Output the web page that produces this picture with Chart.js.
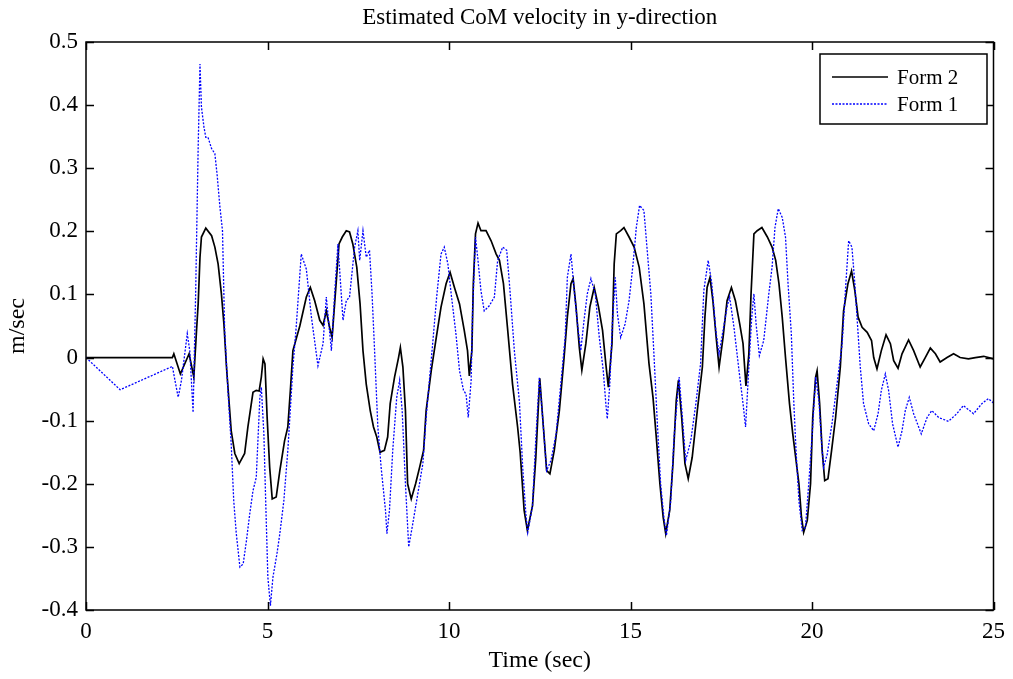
<!DOCTYPE html>
<html lang="en">
<head>
  <meta charset="UTF-8">
  <title>Estimated CoM velocity in y-direction</title>
  <script src="https://cdn.jsdelivr.net/npm/chart.js"></script>
  <style>
    html, body { margin: 0; padding: 0; background: #fff; }
    #wrap { width: 1013px; height: 679px; }
  </style>
</head>
<body>
  <div id="wrap">
    <canvas id="comChart" width="1013" height="679"></canvas>
  </div>

  <script>
    // Form 2 (black, solid)
    const timeForm2 = [0, 2.38, 2.42, 2.6, 2.84, 2.97, 3.04, 3.09, 3.14, 3.18, 3.3, 3.46, 3.55, 3.64, 3.73, 3.8, 3.87, 4.0, 4.1, 4.22,
      4.37, 4.46, 4.6, 4.69, 4.77, 4.83, 4.88, 4.93, 4.99, 5.06, 5.13, 5.24, 5.34, 5.47, 5.56, 5.63, 5.7, 5.89, 6.07, 6.18,
      6.3, 6.44, 6.53, 6.62, 6.71, 6.78, 6.89, 6.97, 7.06, 7.17, 7.26, 7.35, 7.46, 7.55, 7.63, 7.72, 7.83, 7.92, 8.01, 8.1,
      8.22, 8.31, 8.38, 8.5, 8.61, 8.66, 8.73, 8.8, 8.86, 8.96, 9.08, 9.19, 9.3, 9.37, 9.51, 9.65, 9.78, 9.92, 10.03, 10.15,
      10.29, 10.42, 10.51, 10.56, 10.63, 10.67, 10.73, 10.8, 10.88, 11.02, 11.16, 11.3, 11.39, 11.5, 11.61, 11.75, 11.89, 11.96, 12.07, 12.16,
      12.3, 12.39, 12.5, 12.6, 12.69, 12.78, 12.9, 13.04, 13.17, 13.26, 13.36, 13.42, 13.5, 13.59, 13.66, 13.77, 13.88, 14.0, 14.12, 14.23,
      14.32, 14.39, 14.49, 14.55, 14.61, 14.73, 14.82, 14.96, 15.1, 15.24, 15.37, 15.51, 15.62, 15.71, 15.81, 15.9, 15.97, 16.08, 16.17, 16.26,
      16.32, 16.41, 16.5, 16.59, 16.7, 16.84, 16.98, 17.05, 17.11, 17.19, 17.27, 17.36, 17.44, 17.55, 17.66, 17.78, 17.89, 18.01, 18.1, 18.18,
      18.26, 18.32, 18.4, 18.49, 18.62, 18.77, 18.9, 19.0, 19.09, 19.18, 19.27, 19.38, 19.47, 19.55, 19.64, 19.71, 19.77, 19.87, 19.96, 20.02,
      20.1, 20.14, 20.21, 20.28, 20.35, 20.44, 20.54, 20.65, 20.78, 20.87, 20.99, 21.09, 21.18, 21.27, 21.38, 21.52, 21.64, 21.7, 21.79, 21.91,
      22.04, 22.16, 22.25, 22.37, 22.48, 22.66, 22.8, 22.98, 23.12, 23.26, 23.4, 23.53, 23.72, 23.9, 24.08, 24.31, 24.5, 24.73, 25.0];
    const velForm2 = [0, 0, 0.006, -0.026, 0.006, -0.031, 0.038, 0.085, 0.159, 0.191, 0.205, 0.193, 0.175, 0.148, 0.101, 0.053, -0.015, -0.116, -0.152, -0.168,
      -0.152, -0.11, -0.055, -0.052, -0.053, -0.031, -0.002, -0.01, -0.095, -0.174, -0.224, -0.221, -0.179, -0.132, -0.11, -0.052, 0.011, 0.05, 0.096, 0.111,
      0.09, 0.059, 0.051, 0.074, 0.048, 0.032, 0.117, 0.18, 0.191, 0.201, 0.199, 0.18, 0.143, 0.085, 0.011, -0.042, -0.084, -0.11, -0.126, -0.15,
      -0.147, -0.126, -0.073, -0.031, 0.0, 0.016, -0.015, -0.084, -0.2, -0.224, -0.2, -0.174, -0.147, -0.084, -0.021, 0.032, 0.08, 0.117, 0.135, 0.111,
      0.085, 0.043, 0.011, -0.029, 0.011, 0.117, 0.196, 0.213, 0.201, 0.201, 0.185, 0.164, 0.154, 0.117, 0.048, -0.042, -0.11, -0.15, -0.242, -0.274,
      -0.235, -0.16, -0.033, -0.11, -0.179, -0.184, -0.147, -0.084, 0.0, 0.064, 0.117, 0.125, 0.08, 0.016, -0.02, 0.022, 0.08, 0.111, 0.08, 0.043,
      -0.01, -0.047, 0.022, 0.148, 0.196, 0.201, 0.206, 0.191, 0.175, 0.143, 0.085, -0.01, -0.063, -0.126, -0.2, -0.253, -0.279, -0.242, -0.168, -0.068,
      -0.036, -0.095, -0.168, -0.192, -0.158, -0.084, -0.015, 0.064, 0.111, 0.127, 0.09, 0.032, -0.015, 0.032, 0.09, 0.111, 0.09, 0.053, 0.022, -0.045,
      0.005, 0.1, 0.196, 0.201, 0.206, 0.191, 0.175, 0.154, 0.117, 0.064, 0.0, -0.073, -0.121, -0.158, -0.2, -0.253, -0.277, -0.258, -0.2, -0.095,
      -0.031, -0.021, -0.073, -0.147, -0.195, -0.192, -0.147, -0.095, -0.015, 0.074, 0.117, 0.137, 0.106, 0.064, 0.048, 0.04, 0.027, 0.0, -0.018, 0.011,
      0.036, 0.022, -0.005, -0.017, 0.006, 0.028, 0.011, -0.015, 0.0, 0.015, 0.006, -0.007, 0.0, 0.006, 0.0, -0.002, 0.0, 0.002, -0.002];

    // Form 1 (blue, dotted)
    const timeForm1 = [0, 0.94, 2.38, 2.45, 2.54, 2.63, 2.79, 2.86, 2.95, 3.02, 3.09, 3.14, 3.18, 3.25, 3.3, 3.36, 3.46, 3.55, 3.61, 3.69,
      3.76, 3.8, 3.82, 3.91, 4.0, 4.07, 4.14, 4.24, 4.33, 4.42, 4.51, 4.6, 4.69, 4.79, 4.83, 4.9, 4.95, 5.01, 5.08, 5.15,
      5.26, 5.34, 5.45, 5.56, 5.7, 5.79, 5.93, 6.07, 6.21, 6.39, 6.53, 6.62, 6.69, 6.76, 6.85, 6.94, 7.08, 7.17, 7.26, 7.4,
      7.49, 7.54, 7.63, 7.72, 7.81, 7.88, 7.95, 8.04, 8.13, 8.25, 8.29, 8.36, 8.45, 8.56, 8.64, 8.71, 8.8, 8.89, 9.0, 9.14,
      9.28, 9.37, 9.55, 9.66, 9.78, 9.87, 9.97, 10.06, 10.19, 10.29, 10.4, 10.47, 10.53, 10.61, 10.65, 10.73, 10.79, 10.88, 10.97, 11.11,
      11.25, 11.34, 11.48, 11.59, 11.68, 11.8, 11.94, 12.03, 12.12, 12.17, 12.3, 12.39, 12.49, 12.58, 12.69, 12.81, 12.95, 13.08, 13.2, 13.26,
      13.36, 13.45, 13.54, 13.63, 13.72, 13.81, 13.91, 14.03, 14.14, 14.25, 14.32, 14.36, 14.43, 14.5, 14.58, 14.64, 14.73, 14.85, 14.96, 15.07,
      15.16, 15.25, 15.37, 15.46, 15.56, 15.65, 15.74, 15.83, 15.92, 15.99, 16.11, 16.2, 16.34, 16.43, 16.52, 16.66, 16.8, 16.93, 17.02, 17.14,
      17.24, 17.35, 17.44, 17.55, 17.66, 17.73, 17.85, 17.99, 18.1, 18.17, 18.26, 18.34, 18.4, 18.46, 18.55, 18.67, 18.81, 18.9, 18.98, 19.07,
      19.18, 19.27, 19.34, 19.43, 19.5, 19.56, 19.64, 19.73, 19.82, 19.91, 20.0, 20.1, 20.19, 20.26, 20.32, 20.42, 20.55, 20.69, 20.83, 20.92,
      21.01, 21.1, 21.18, 21.24, 21.33, 21.42, 21.56, 21.7, 21.82, 21.91, 22.02, 22.11, 22.22, 22.37, 22.48, 22.57, 22.68, 22.8, 23.01, 23.17,
      23.3, 23.49, 23.76, 23.99, 24.17, 24.45, 24.68, 24.86, 25.0];
    const velForm1 = [0, -0.051, -0.014, -0.036, -0.063, -0.036, 0.038, 0.01, -0.087, 0.1, 0.333, 0.465, 0.397, 0.365, 0.349, 0.349, 0.331, 0.323, 0.291, 0.238,
      0.201, 0.096, 0.043, -0.052, -0.137, -0.227, -0.279, -0.332, -0.327, -0.29, -0.248, -0.211, -0.19, -0.063, -0.047, -0.121, -0.227, -0.348, -0.393, -0.348,
      -0.311, -0.279, -0.227, -0.147, -0.015, 0.048, 0.164, 0.14, 0.064, -0.013, 0.022, 0.096, 0.053, 0.011, 0.101, 0.18, 0.059, 0.09, 0.096, 0.175,
      0.201, 0.154, 0.201, 0.159, 0.17, 0.101, 0.011, -0.11, -0.174, -0.242, -0.279, -0.242, -0.147, -0.063, -0.036, -0.084, -0.2, -0.3, -0.264, -0.216,
      -0.168, -0.095, 0.022, 0.096, 0.164, 0.175, 0.148, 0.101, 0.038, -0.021, -0.052, -0.058, -0.095, -0.036, 0.074, 0.191, 0.159, 0.106, 0.074, 0.082,
      0.096, 0.154, 0.175, 0.17, 0.106, 0.011, -0.07, -0.174, -0.25, -0.277, -0.235, -0.13, -0.031, -0.095, -0.179, -0.163, -0.121, -0.042, 0.032, 0.127,
      0.164, 0.106, 0.053, 0.011, 0.059, 0.101, 0.125, 0.101, 0.032, -0.021, -0.073, -0.097, -0.042, 0.053, 0.127, 0.069, 0.032, 0.053, 0.09, 0.148,
      0.206, 0.241, 0.233, 0.17, 0.101, 0.0, -0.105, -0.2, -0.253, -0.282, -0.227, -0.126, -0.031, -0.095, -0.163, -0.132, -0.073, -0.01, 0.106, 0.154,
      0.117, 0.043, 0.006, 0.043, 0.08, 0.096, 0.048, -0.021, -0.073, -0.11, -0.015, 0.064, 0.101, 0.053, 0.003, 0.027, 0.101, 0.143, 0.206, 0.236,
      0.222, 0.191, 0.117, 0.038, -0.073, -0.147, -0.227, -0.274, -0.269, -0.2, -0.126, -0.031, -0.068, -0.132, -0.174, -0.153, -0.105, -0.042, 0.022, 0.106,
      0.185, 0.175, 0.117, 0.064, -0.015, -0.073, -0.105, -0.116, -0.089, -0.052, -0.026, -0.052, -0.105, -0.142, -0.116, -0.084, -0.063, -0.089, -0.121, -0.095,
      -0.084, -0.095, -0.101, -0.089, -0.076, -0.089, -0.073, -0.065, -0.072];

    const xTicks = [0, 5, 10, 15, 20, 25];
    const yTicks = [-0.4, -0.3, -0.2, -0.1, 0, 0.1, 0.2, 0.3, 0.4, 0.5];

    const serif = '"Liberation Serif", "Times New Roman", serif';

    const toPoints = (xs, ys) => xs.map((x, i) => ({ x: x, y: ys[i] }));

    // box, inward ticks, title, axis labels and legend in MATLAB style
    const matlabFrame = {
      id: 'matlabFrame',
      afterDraw(chart) {
        const ctx = chart.ctx;
        const a = chart.chartArea;
        const xs = chart.scales.x, ys = chart.scales.y;
        ctx.save();
        ctx.strokeStyle = '#000';
        ctx.lineWidth = 1.5;
        ctx.strokeRect(a.left, a.top, a.right - a.left, a.bottom - a.top);
        ctx.beginPath();
        xTicks.forEach(t => {
          const px = Math.round(xs.getPixelForValue(t)) + 0.5;
          ctx.moveTo(px, a.bottom); ctx.lineTo(px, a.bottom - 8);
          ctx.moveTo(px, a.top); ctx.lineTo(px, a.top + 8);
        });
        yTicks.forEach(t => {
          const py = Math.round(ys.getPixelForValue(t)) + 0.5;
          ctx.moveTo(a.left, py); ctx.lineTo(a.left + 8, py);
          ctx.moveTo(a.right, py); ctx.lineTo(a.right - 8, py);
        });
        ctx.stroke();

        ctx.fillStyle = '#000';
        ctx.textAlign = 'center';
        ctx.textBaseline = 'middle';
        ctx.font = '23px ' + serif;
        ctx.fillText('Estimated CoM velocity in y-direction', (a.left + a.right) / 2, 18);
        ctx.font = '24px ' + serif;
        ctx.fillText('Time (sec)', (a.left + a.right) / 2, 661);
        ctx.save();
        ctx.translate(18, (a.top + a.bottom) / 2);
        ctx.rotate(-Math.PI / 2);
        ctx.fillText('m/sec', 0, 0);
        ctx.restore();

        // legend box
        const lx = 820, ly = 54, lw = 167, lh = 70;
        ctx.fillStyle = '#fff';
        ctx.fillRect(lx, ly, lw, lh);
        ctx.lineWidth = 1.5;
        ctx.strokeRect(lx, ly, lw, lh);
        ctx.font = '21px ' + serif;
        ctx.textAlign = 'left';
        chart.data.datasets.forEach((ds, i) => {
          const yy = ly + 23 + i * 27;
          ctx.strokeStyle = ds.borderColor;
          ctx.lineWidth = ds.borderWidth;
          ctx.setLineDash(ds.borderDash || []);
          ctx.beginPath();
          ctx.moveTo(lx + 12, yy);
          ctx.lineTo(lx + 68, yy);
          ctx.stroke();
          ctx.setLineDash([]);
          ctx.fillStyle = '#000';
          ctx.fillText(ds.label, lx + 77, yy + 1);
        });
        ctx.restore();
      }
    };

    const ctx = document.getElementById('comChart').getContext('2d');
    const comChart = new Chart(ctx, {
      type: 'line',
      data: {
        datasets: [{
          label: 'Form 2',
          data: toPoints(timeForm2, velForm2),
          borderColor: '#000000',
          borderWidth: 1.7,
          pointRadius: 0,
          tension: 0,
          fill: false,
          order: 1
        }, {
          label: 'Form 1',
          data: toPoints(timeForm1, velForm1),
          borderColor: '#0000ff',
          borderWidth: 1.3,
          borderDash: [2, 1.5],
          pointRadius: 0,
          tension: 0,
          fill: false,
          order: 0
        }]
      },
      options: {
        responsive: false,
        animation: false,
        layout: { padding: { left: 0, right: 18, top: 42, bottom: 0 } },
        plugins: {
          legend: { display: false },
          title: { display: false },
          tooltip: { enabled: false }
        },
        scales: {
          x: {
            type: 'linear',
            min: 0,
            max: 25,
            grid: { display: false, drawTicks: false },
            border: { display: false },
            afterFit: s => { s.height = 69; },
            afterBuildTicks: s => { s.ticks = xTicks.map(v => ({ value: v })); },
            ticks: {
              padding: 8,
              color: '#000',
              font: { family: serif, size: 23 },
              maxRotation: 0
            }
          },
          y: {
            type: 'linear',
            min: -0.4,
            max: 0.5,
            grid: { display: false, drawTicks: false },
            border: { display: false },
            afterFit: s => { s.width = 86; },
            afterBuildTicks: s => { s.ticks = yTicks.map(v => ({ value: v })); },
            ticks: {
              padding: 8,
              color: '#000',
              font: { family: serif, size: 23 },
              callback: v => String(Math.round(v * 10) / 10)
            }
          }
        }
      },
      plugins: [matlabFrame]
    });
  </script>
</body>
</html>
